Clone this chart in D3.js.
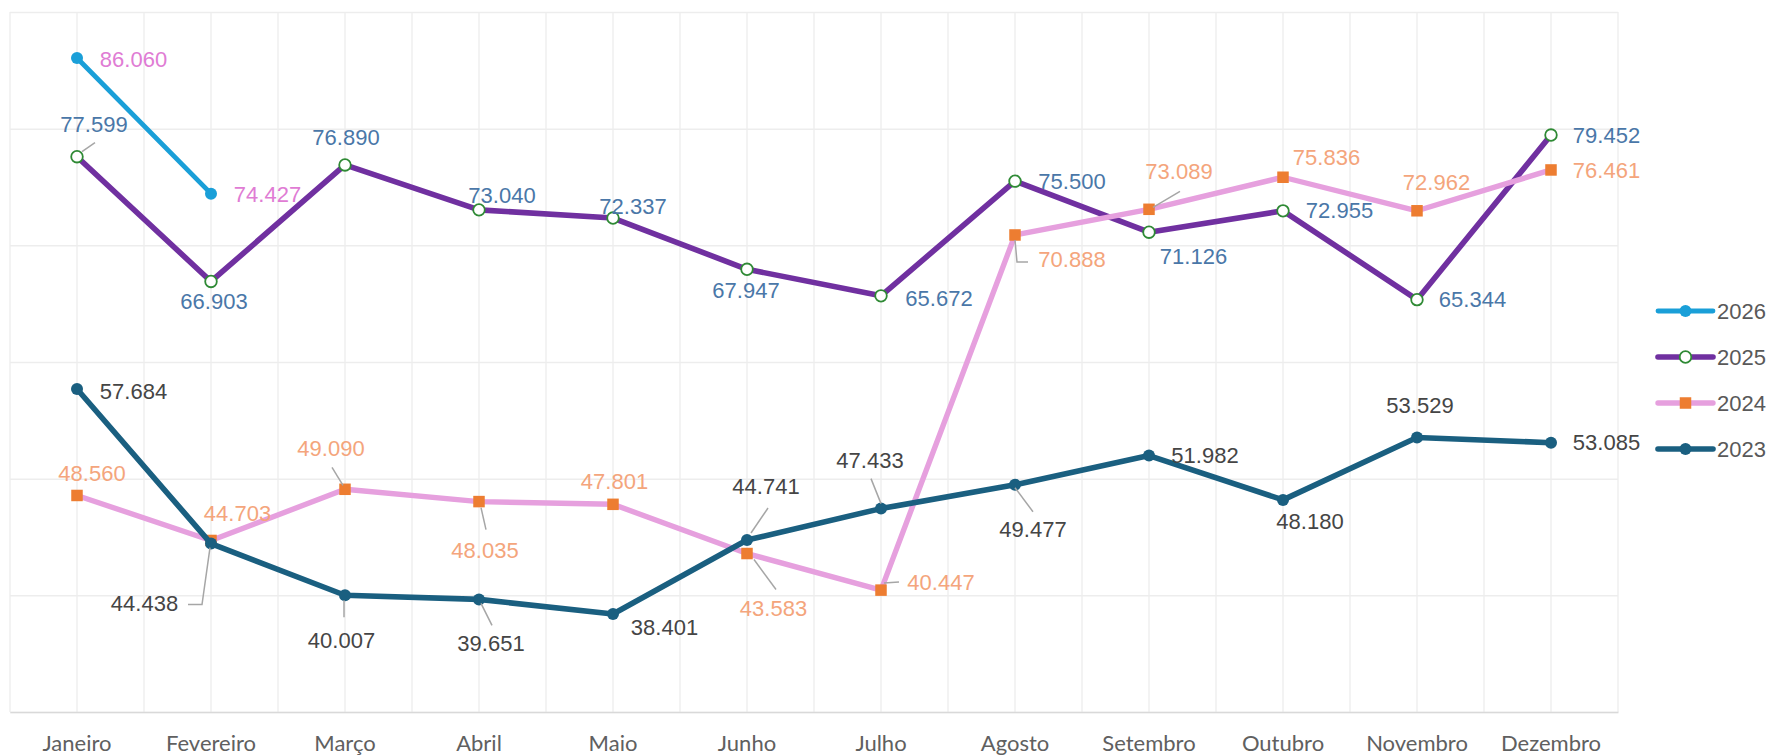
<!DOCTYPE html>
<html>
<head>
<meta charset="utf-8">
<script src="https://cdn.jsdelivr.net/npm/d3@7"></script>
<style>
  html, body { margin: 0; padding: 0; background: #ffffff; }
  svg { display: block; }
</style>
</head>
<body>
<svg id="chart" width="1768" height="755"></svg>
<script>
// ---------------- DATA ----------------
const months = ["Janeiro", "Fevereiro", "Março", "Abril", "Maio", "Junho",
                "Julho", "Agosto", "Setembro", "Outubro", "Novembro", "Dezembro"];
const seriesNames = ["2026", "2025", "2024", "2023"];
const values2026 = [86060, 74427];
const values2025 = [77599, 66903, 76890, 73040, 72337, 67947, 65672, 75500, 71126, 72955, 65344, 79452];
const values2024 = [48560, 44703, 49090, 48035, 47801, 43583, 40447, 70888, 73089, 75836, 72962, 76461];
const values2023 = [57684, 44438, 40007, 39651, 38401, 44741, 47433, 49477, 51982, 48180, 53529, 53085];
const yTicks = [30000, 40000, 50000, 60000, 70000, 80000, 90000];

// ---------------- LAYOUT (label placement, px offsets from the point) ----------------
const labelOffsets = {
  "2026": [[56.5, 2], [56.5, 1]],
  "2025": [[17, -32, [[5, -5], [18, -14]]], [3, 20.5], [1, -27], [23, -14], [20, -12], [-1, 21],
           [58, 3], [57, 0], [44.5, 24], [56.5, 0], [55.5, 0], [55.5, 0]],
  "2024": [[15, -22], [26.5, -27], [-14, -41, [[-13, -22], [-2, -4]]], [6, 48.5, [[2, 6], [7, 28]]],
           [1.5, -23], [26.5, 54.5, [[7, 6], [29, 36]]], [60, -7.5, [[3, -7], [18, -8]]],
           [57, 25, [[0, 5], [2, 27], [13, 27]]], [30, -38, [[4, -2], [31, -18]]],
           [43.5, -20], [19.5, -28], [55.5, 1]],
  "2023": [[56.5, 2], [-66.5, 60, [[-23, 61], [-9, 61], [-1, 4]]], [-3.5, 45, [[-1, 5], [-1, 22]]],
           [12, 44, [[2, 4], [13, 26]]], [51.5, 13.5], [19, -54, [[21, -32], [4, -7]]],
           [-11, -48.5, [[-10, -30], [0, -5]]], [18, 45, [[0, 3], [18, 27]]],
           [56, -0.5], [27, 22], [3, -31.5], [55.5, 0]]
};

const styles = {
  "2026": { line: "#1A9FD8", width: 4.8, marker: "dot", fill: "#1A9FD8", stroke: "#1A9FD8", label: "#E07CD4" },
  "2025": { line: "#7030A0", width: 5.6, marker: "ring", fill: "#ffffff", stroke: "#2F8A35", label: "#4A77A8" },
  "2024": { line: "#E6A0DE", width: 5.4, marker: "square", fill: "#ED7D31", stroke: "#ED7D31", label: "#F4A57C" },
  "2023": { line: "#1A5F80", width: 5.6, marker: "dot", fill: "#1A5F80", stroke: "#1A5F80", label: "#454545" }
};

const dataBySeries = { "2026": values2026, "2025": values2025, "2024": values2024, "2023": values2023 };

// ---------------- CHART ----------------
const svg = d3.select("#chart");
const plot = { left: 10, right: 1618, top: 12, bottom: 712 };

const x = d3.scaleBand().domain(months).range([plot.left, plot.right]).paddingInner(0).paddingOuter(0);
const y = d3.scaleLinear().domain([30000, 90000]).range([plot.bottom, plot.top]);
const cx = m => x(m) + x.bandwidth() / 2;

const fmt = d3.formatLocale({ decimal: ",", thousands: ".", grouping: [3], currency: ["R$", ""] }).format(",d");

// vertical gridlines (band edges + centers)
const vgrid = [];
months.forEach(m => { vgrid.push(x(m)); vgrid.push(cx(m)); });
vgrid.push(plot.right);
svg.append("g").selectAll("line").data(vgrid).join("line")
  .attr("x1", d => d).attr("x2", d => d)
  .attr("y1", plot.top).attr("y2", plot.bottom)
  .attr("stroke", "#EFEFEF").attr("stroke-width", 1.5);

// horizontal gridlines via axis
const yAxis = d3.axisLeft(y).tickValues(yTicks).tickSize(-(plot.right - plot.left)).tickFormat("");
const gy = svg.append("g").attr("transform", `translate(${plot.left},0)`).call(yAxis);
gy.select(".domain").remove();
gy.selectAll(".tick line").attr("stroke", "#EDEDED").attr("stroke-width", 1.5);

// x axis
const xAxis = d3.axisBottom(x).tickSize(0).tickPadding(0);
const gx = svg.append("g").attr("transform", `translate(0,${plot.bottom})`).call(xAxis);
gx.select(".domain").attr("stroke", "#D9D9D9").attr("stroke-width", 1.5);
gx.selectAll(".tick text")
  .attr("y", 39).attr("dy", 0)
  .attr("fill", "#606060")
  .style("font-family", "Lato, 'Noto Sans', sans-serif")
  .style("font-size", "22px");

// series
const lineGen = d3.line().x(d => cx(d.m)).y(d => y(d.v));
function drawMarker(g, kind, st, px, py) {
  if (kind === "square") {
    const s = 11.5;
    g.append("rect").attr("x", px - s / 2).attr("y", py - s / 2).attr("width", s).attr("height", s)
      .attr("fill", st.fill);
  } else if (kind === "ring") {
    g.append("circle").attr("cx", px).attr("cy", py).attr("r", 5.8)
      .attr("fill", st.fill).attr("stroke", st.stroke).attr("stroke-width", 1.8);
  } else {
    g.append("circle").attr("cx", px).attr("cy", py).attr("r", 6).attr("fill", st.fill);
  }
}

const seriesLayer = svg.append("g");
seriesNames.forEach(name => {
  const st = styles[name];
  const pts = dataBySeries[name].map((v, i) => ({ m: months[i], v }));
  const g = seriesLayer.append("g");
  g.append("path").datum(pts).attr("d", lineGen)
    .attr("fill", "none").attr("stroke", st.line).attr("stroke-width", st.width)
    .attr("stroke-linejoin", "round").attr("stroke-linecap", "round");
  pts.forEach(p => drawMarker(g, st.marker, st, cx(p.m), y(p.v)));
});

// labels + leaders
const labelLayer = svg.append("g");
seriesNames.forEach(name => {
  const st = styles[name];
  dataBySeries[name].forEach((v, i) => {
    const px = cx(months[i]), py = y(v);
    const off = labelOffsets[name][i];
    if (off[2]) {
      labelLayer.append("polyline")
        .attr("points", off[2].map(p => `${px + p[0]},${py + p[1]}`).join(" "))
        .attr("fill", "none").attr("stroke", "#A6A6A6").attr("stroke-width", 1.5);
    }
    labelLayer.append("text")
      .attr("x", px + off[0]).attr("y", py + off[1])
      .attr("text-anchor", "middle").attr("dominant-baseline", "central")
      .attr("fill", st.label)
      .style("font-family", "'Liberation Sans', Arial, sans-serif")
      .style("font-size", "22px")
      .text(fmt(v));
  });
});

// legend
const legendY = d3.scalePoint().domain(seriesNames).range([311, 449]);
const lg = svg.append("g");
seriesNames.forEach(name => {
  const st = styles[name];
  const ly = legendY(name);
  lg.append("line").attr("x1", 1658).attr("x2", 1713).attr("y1", ly).attr("y2", ly)
    .attr("stroke", st.line).attr("stroke-width", st.width).attr("stroke-linecap", "round");
  drawMarker(lg, st.marker, st, 1685.5, ly);
  lg.append("text").attr("x", 1717).attr("y", ly).attr("dominant-baseline", "central")
    .attr("fill", "#595959")
    .style("font-family", "'Liberation Sans', Arial, sans-serif")
    .style("font-size", "22px")
    .text(name);
});
</script>
</body>
</html>
